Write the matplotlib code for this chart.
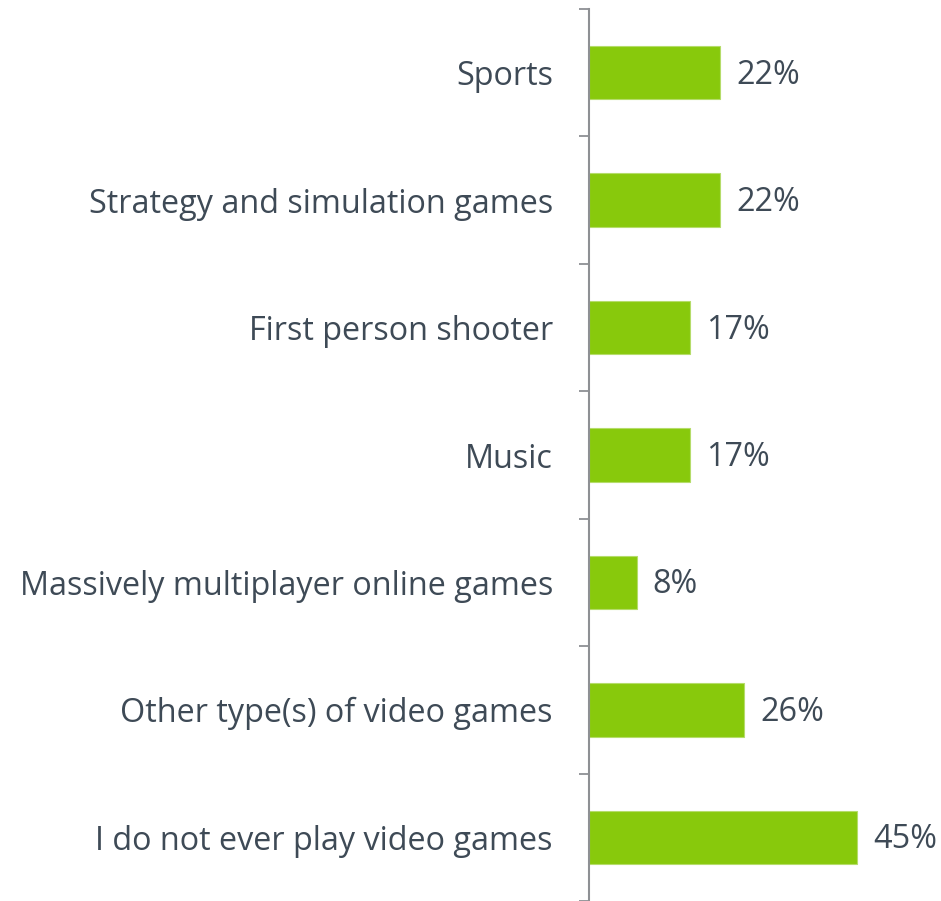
import matplotlib
matplotlib.use("Agg")
import matplotlib.pyplot as plt
import numpy as np

# game genres played, share of respondents (%)
categories = [
    "Sports",
    "Strategy and simulation games",
    "First person shooter",
    "Music",
    "Massively multiplayer online games",
    "Other type(s) of video games",
    "I do not ever play video games",
]
shares = [22, 22, 17, 17, 8, 26, 45]

bar_color = "#88C90C"
text_color = "#3E4A56"
axis_color = "#8E9094"

plt.rcParams["font.family"] = ["Open Sans", "DejaVu Sans"]

fig = plt.figure(figsize=(9.41, 9.01), dpi=100)
ax = fig.add_axes([589 / 941, 0.0, 298 / 941, 892 / 901])

y = np.arange(len(categories))
ax.barh(y, shares, height=0.42, color=bar_color,
        edgecolor="#B5DC6A", linewidth=0.8)

for yi, v in zip(y, shares):
    ax.text(v + 2.7, yi + 0.02, f"{v}%", va="center", ha="left",
            fontsize=23.3, color=text_color)

ax.set_xlim(0, 50)
ax.set_ylim(len(categories) - 0.5, -0.5)

ax.set_yticks(y)
ax.set_yticklabels(categories, fontsize=23.3, color=text_color)
ax.tick_params(axis="y", which="major", length=0, pad=26)
ax.set_yticks(np.arange(-0.5, len(categories), 1.0), minor=True)
ax.tick_params(axis="y", which="minor", length=7, width=1.3, color=axis_color)

ax.set_xticks([])
for side in ["top", "right", "bottom"]:
    ax.spines[side].set_visible(False)
ax.spines["left"].set_color(axis_color)
ax.spines["left"].set_linewidth(1.5)

fig.savefig("out.png", dpi=100)
